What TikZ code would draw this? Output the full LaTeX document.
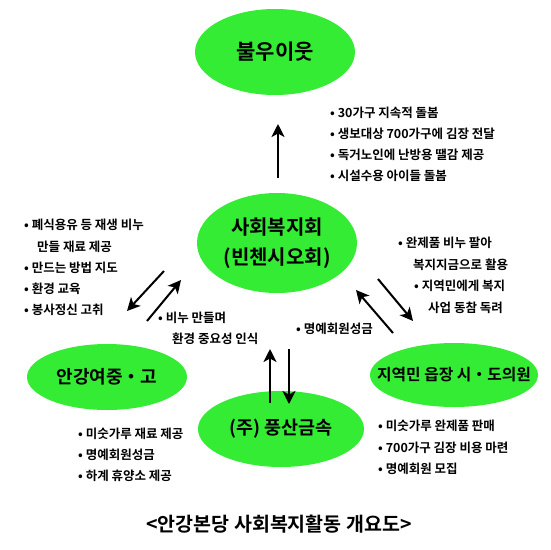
\documentclass[tikz,border=0pt]{standalone}
\usepackage{fontspec}
\setmainfont{Noto Sans CJK KR}[BoldFont={Noto Sans CJK KR Bold}]
\usetikzlibrary{shapes.geometric,arrows.meta}
\definecolor{leaf}{RGB}{51,236,51}
\begin{document}
\begin{tikzpicture}[x=1pt,y=-1pt,
  blob/.style={ellipse,fill=leaf,draw=none,inner sep=0pt,align=center,font=\bfseries},
  note/.style={anchor=west,inner sep=0pt,font=\bfseries\fontsize{12.5}{14}\selectfont},
  flow/.style={line width=2pt,-{Stealth[length=13pt,width=13pt,inset=3.5pt]}}]
\useasboundingbox (0,0) rectangle (550,550);
\fill[white] (0,0) rectangle (550,550);
% ellipses
\node[blob,minimum width=160pt,minimum height=86pt,font=\bfseries\fontsize{21}{24}\selectfont] (poor) at (275,52) {불우이웃};
\node[blob,minimum width=160pt,minimum height=100pt,font=\bfseries\fontsize{20}{30}\selectfont] (soc) at (277,243) {사회복지회\\(빈첸시오회)};
\node[blob,minimum width=160pt,minimum height=66pt,font=\bfseries\fontsize{18}{20}\selectfont] (school) at (107,377) {안강여중・고};
\node[blob,inner xsep=-20pt,minimum width=168pt,minimum height=64pt,font=\bfseries\fontsize{15.8}{18}\selectfont] (local) at (454,375) {지역민 읍장 시・도의원};
\node[blob,minimum width=166pt,minimum height=76pt,font=\bfseries\fontsize{18.5}{20}\selectfont] (comp) at (281,429) {(주) 풍산금속};
% notes
\node[note] (t1) at (330,113) {• 30가구 지속적 돌봄};
\node[note] (t2) at (330,134) {• 생보대상 700가구에 김장 전달};
\node[note] (t3) at (330,155) {• 독거노인에 난방용 땔감 제공};
\node[note] (t4) at (330,176) {• 시설수용 아이들 돌봄};
\node[note] (l1) at (24,225) {• 폐식용유 등 재생 비누};
\node[note] (l2) at (37,247) {만들 재료 제공};
\node[note] (l3) at (24,268) {• 만드는 방법 지도};
\node[note] (l4) at (24,289) {• 환경 교육};
\node[note] (l5) at (24,310) {• 봉사정신 고취};
\node[note] (r1) at (398,243) {• 완제품 비누 팔아};
\node[note] (r2) at (413,265) {복지지금으로 활용};
\node[note] (r3) at (414,286) {• 지역민에게 복지};
\node[note] (r4) at (428,308) {사업 동참 독려};
\node[note] (m1) at (158,318) {• 비누 만들며};
\node[note] (m2) at (172,339) {환경 중요성 인식};
\node[note] (m3) at (296,329) {• 명예회원성금};
\node[note] (b1) at (78,434) {• 미숫가루 재료 제공};
\node[note] (b2) at (78,455) {• 명예회원성금};
\node[note] (b3) at (78,476) {• 하계 휴양소 제공};
\node[note] (c1) at (378,426) {• 미숫가루 완제품 판매};
\node[note] (c2) at (378,448) {• 700가구 김장 비용 마련};
\node[note] (c3) at (378,469) {• 명예회원 모집};
\node[font=\bfseries\fontsize{19.5}{22}\selectfont,inner sep=0pt] (title) at (279,524) {<안강본당 사회복지활동 개요도>};
% arrow end points
\coordinate (a1s) at (278,178); \coordinate (a1e) at (278,124);
\coordinate (a2s) at (164,271); \coordinate (a2e) at (127,311);
\coordinate (a3s) at (147,321); \coordinate (a3e) at (181,280);
\coordinate (a4s) at (378,279); \coordinate (a4e) at (413,321);
\coordinate (a5s) at (393,333); \coordinate (a5e) at (356,290);
\coordinate (a6s) at (270,403); \coordinate (a6e) at (270,349);
\coordinate (a7s) at (289,349); \coordinate (a7e) at (289,404);
\foreach \s/\e in {a1s/a1e,a2s/a2e,a3s/a3e,a4s/a4e,a5s/a5e,a6s/a6e,a7s/a7e}
  \draw[flow] (\s) -- (\e);
\end{tikzpicture}
\end{document}
